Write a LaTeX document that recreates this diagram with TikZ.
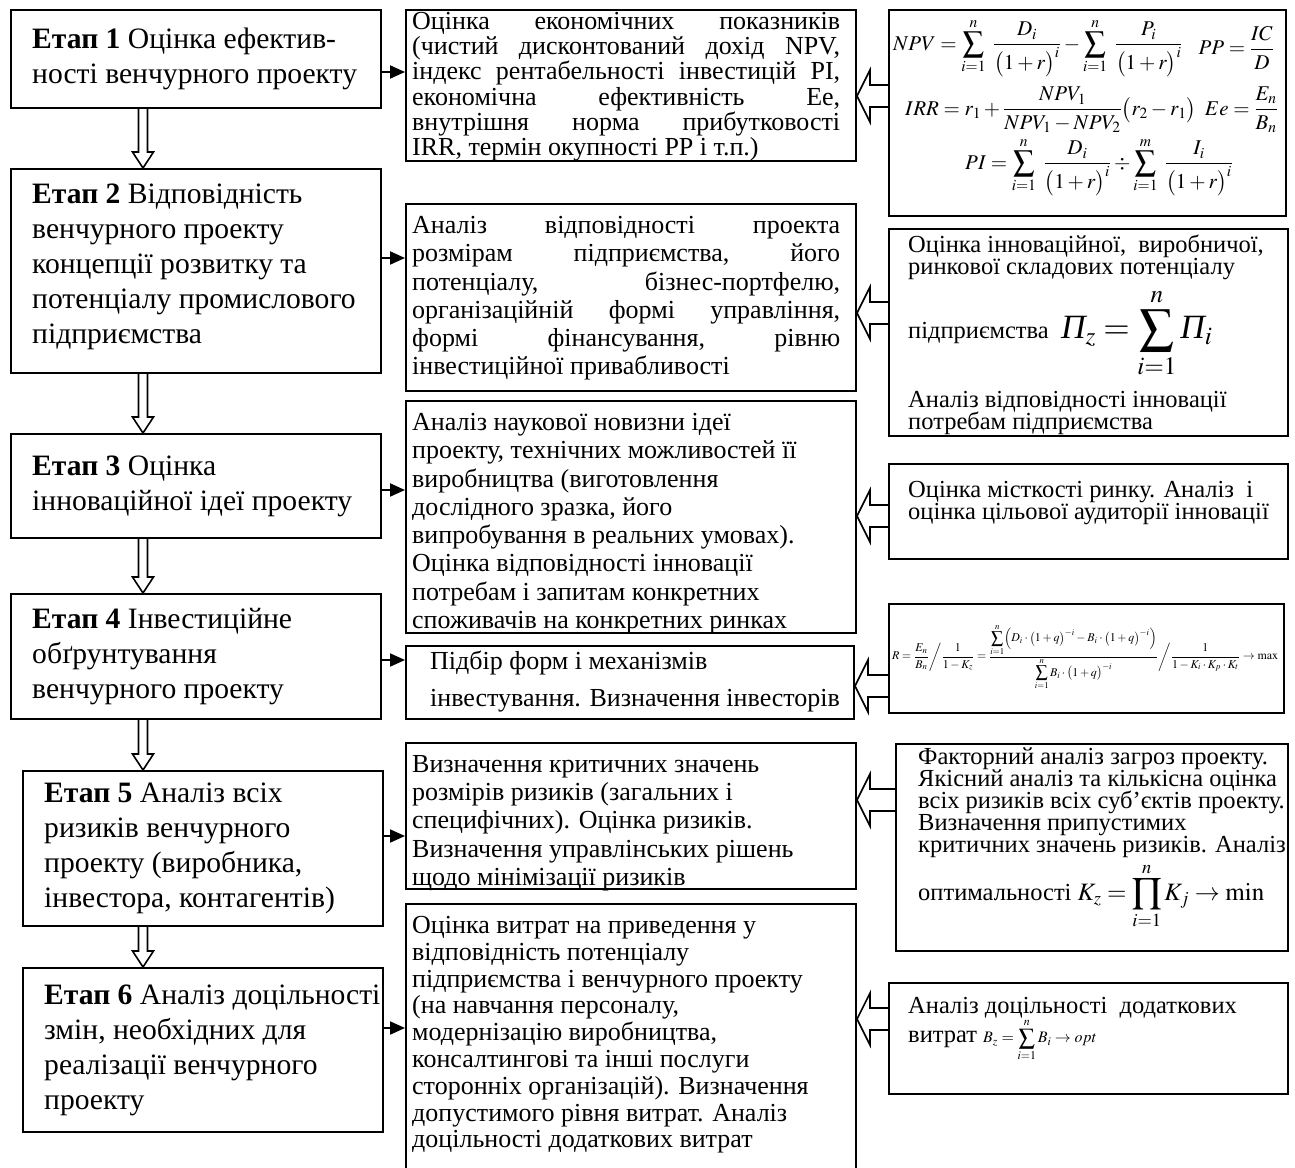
\documentclass[tikz,border=0pt]{standalone}
\usepackage{amsmath}
\usepackage{mathptmx}
\usepackage[no-math]{fontspec}
\setmainfont{Liberation Serif}
\usepackage{graphicx}
\usetikzlibrary{arrows.meta,calc}

\begin{document}
\begin{tikzpicture}[x=1pt,y=-1pt,
  box/.style={draw, line width=2pt, anchor=north west, inner sep=0pt},
  stagetxt/.style={anchor=west, inner sep=0pt, align=left, font=\stagefont},
  txt/.style={anchor=north west, inner sep=0pt, align=left},
  link/.style={line width=2pt, -{Triangle[length=15pt,width=13pt]}},
  hollow/.style={line width=1.6pt, line join=miter}]
\def\stagefont{\fontsize{29.6}{35}\selectfont}
\def\midfont{\fontsize{26}{28.3}\selectfont\lineskiplimit=-60pt\relax}
\def\sidefont{\fontsize{24.5}{22}\selectfont\lineskiplimit=-60pt\relax}
\def\jl#1{\hbox to 428pt{#1}}
\def\vdown#1#2{\draw[hollow] ($(#1.south -| ax)+(-4.5,0)$) -- ($(#2.north -| ax)+(-4.5,-16)$) -- ($(#2.north -| ax)+(-10.5,-16)$) -- (#2.north -| ax) -- ($(#2.north -| ax)+(10.5,-16)$) -- ($(#2.north -| ax)+(4.5,-16)$) -- ($(#1.south -| ax)+(4.5,0)$);}
\def\hleft#1#2#3{\draw[hollow] ($(#1.west |- 0,#3)+(0,-11)$) -- ($(#2.east |- 0,#3)+(13,-11)$) -- ($(#2.east |- 0,#3)+(13,-26)$) -- (#2.east |- 0,#3) -- ($(#2.east |- 0,#3)+(13,26)$) -- ($(#2.east |- 0,#3)+(13,11)$) -- ($(#1.west |- 0,#3)+(0,11)$);}

\useasboundingbox (0,0) rectangle (1295,1167);
\coordinate (ax) at (143,0);

% stages
\node[box, minimum width=370pt, minimum height=98pt] (b1) at (10,9) {};
\node[stagetxt] (b1t) at ($(b1.west)+(22,0)$) {\textbf{Етап 1} Оцінка ефектив-\\ності венчурного проекту};
\node[box, minimum width=370pt, minimum height=204pt] (b2) at (10,168) {};
\node[stagetxt] (b2t) at ($(b2.west)+(22,-4)$) {\textbf{Етап 2} Відповідність\\венчурного проекту\\концепції розвитку та\\потенціалу промислового\\підприємства};
\node[box, minimum width=370pt, minimum height=104pt] (b3) at (10,433) {};
\node[stagetxt] (b3t) at ($(b3.west)+(22,0)$) {\textbf{Етап 3} Оцінка\\інноваційної ідеї проекту};
\node[box, minimum width=370pt, minimum height=125pt] (b4) at (10,593) {};
\node[stagetxt] (b4t) at ($(b4.west)+(22,0)$) {\textbf{Етап 4} Інвестиційне\\обґрунтування\\венчурного проекту};
\node[box, minimum width=360pt, minimum height=155pt] (b5) at (22,770) {};
\node[stagetxt] (b5t) at ($(b5.west)+(22,0)$) {\textbf{Етап 5} Аналіз всіх\\ризиків венчурного\\проекту (виробника,\\інвестора, контагентів)};
\node[box, minimum width=360pt, minimum height=164pt] (b6) at (22,967) {};
\node[stagetxt] (b6t) at ($(b6.west)+(22,0)$) {\textbf{Етап 6} Аналіз доцільності\\змін, необхідних для\\реалізації венчурного\\проекту};

\vdown{b1}{b2}
\vdown{b2}{b3}
\vdown{b3}{b4}
\vdown{b4}{b5}
\vdown{b5}{b6}

% middle column
\node[box, minimum width=450pt, minimum height=151pt] (m1) at (405,9) {};
\begin{scope}
\clip (m1.north west) rectangle (m1.south east);
\node[txt, font={\midfont\baselineskip=25.2pt}] (m1t) at (412,12) {\jl{Оцінка\hfill економічних\hfill показників}\\\jl{(чистий\hfill дисконтований\hfill дохід\hfill NPV,}\\\jl{індекс\hfill рентабельності\hfill інвестицій\hfill PI,}\\\jl{економічна\hfill ефективність\hfill Ее,}\\\jl{внутрішня\hfill норма\hfill прибутковості}\\IRR, термін окупності PP і т.п.)};
\end{scope}

\node[box, minimum width=450pt, minimum height=187pt] (m2) at (405,203) {};
\node[txt, font=\midfont] (m2t) at (412,216) {\jl{Аналіз\hfill відповідності\hfill проекта}\\\jl{розмірам\hfill підприємства,\hfill його}\\\jl{потенціалу,\hfill бізнес-портфелю,}\\\jl{організаційній\hfill формі\hfill управління,}\\\jl{формі\hfill фінансування,\hfill рівню}\\інвестиційної привабливості};

\node[box, minimum width=450pt, minimum height=232pt] (m3) at (405,400) {};
\begin{scope}
\clip (m3.north west) rectangle (m3.south east);
\node[txt, font=\midfont] (m3t) at (412,413) {Аналіз наукової новизни ідеї\\проекту, технічних можливостей її\\виробництва (виготовлення\\дослідного зразка, його\\випробування в реальних умовах).\\Оцінка відповідності інновації\\потребам і запитам конкретних\\споживачів на конкретних ринках};
\end{scope}

\node[box, minimum width=448pt, minimum height=73pt] (m4) at (405,645) {};
\node[txt, font={\midfont\baselineskip=37pt}] (m4t) at (430,651) {Підбір форм і механізмів\\інвестування. Визначення інвесторів};

\node[box, minimum width=450pt, minimum height=146pt] (m5) at (405,742) {};
\begin{scope}
\clip (m5.north west) rectangle (m5.south east);
\node[txt, font=\midfont] (m5t) at (412,755) {Визначення критичних значень\\розмірів ризиків (загальних і\\специфічних). Оцінка ризиків.\\Визначення управлінських рішень\\щодо мінімізації ризиків};
\end{scope}

\node[box, minimum width=450pt, minimum height=270pt] (m6) at (405,903) {};
\node[txt, font={\midfont\baselineskip=26.8pt}] (m6t) at (412,916) {Оцінка витрат на приведення у\\відповідність потенціалу\\підприємства і венчурного проекту\\(на навчання персоналу,\\модернізацію виробництва,\\консалтингові та інші послуги\\сторонніх організацій). Визначення\\допустимого рівня витрат. Аналіз\\доцільності додаткових витрат};

\draw[link] (b1.east |- 0,72) -- (m1.west |- 0,72);
\draw[link] (b2.east |- 0,258) -- (m2.west |- 0,258);
\draw[link] (b3.east |- 0,490) -- (m3.west |- 0,490);
\draw[link] (b4.east |- 0,660) -- (m4.west |- 0,660);
\draw[link] (b5.east |- 0,836) -- (m5.west |- 0,836);
\draw[link] (b6.east |- 0,1028) -- (m6.west |- 0,1028);

% right column
\node[box, minimum width=397pt, minimum height=206pt] (r1) at (888,9) {};
\node[anchor=west, inner sep=0pt, font=\fontsize{21}{21}\selectfont] (npv) at (893,48) {$\displaystyle NPV=\sum_{i=1}^{n}\ \frac{D_i}{\bigl(1+r\bigr)^i}-\sum_{i=1}^{n}\ \frac{P_i}{\bigl(1+r\bigr)^i}$};
\node[anchor=east, inner sep=0pt, font=\fontsize{21}{21}\selectfont] (pp) at (1274,48) {$\displaystyle PP=\frac{IC}{D}$};
\node[anchor=west, inner sep=0pt, font=\fontsize{21}{21}\selectfont] (irr) at (905,110) {$\displaystyle IRR=r_1+\frac{NPV_1}{NPV_1-NPV_2}\bigl(r_2-r_1\bigr)$};
\node[anchor=east, inner sep=0pt, font=\fontsize{21}{21}\selectfont] (ee) at (1278,110) {$\displaystyle Ee=\frac{E_n}{B_n}$};
\node[anchor=west, inner sep=0pt, font=\fontsize{21}{21}\selectfont] (pi) at (965,167) {$\displaystyle PI=\sum_{i=1}^{n}\ \frac{D_i}{\bigl(1+r\bigr)^i}\div\sum_{i=1}^{m}\ \frac{I_i}{\bigl(1+r\bigr)^i}$};

\node[box, minimum width=399pt, minimum height=207pt] (r2) at (888,228) {};
\node[txt, font=\sidefont] (r2a) at (908,235) {Оцінка інноваційної,\ \ виробничої,\\ринкової складових потенціалу};
\node[anchor=west, inner sep=0pt, font=\sidefont] (r2f) at (908,333) {підприємства\ \ {\fontsize{34}{34}\selectfont$\text{\itshape Π}_z=\displaystyle\sum_{i=1}^{n}\text{\itshape Π}_i$}};
\node[txt, font=\sidefont] (r2b) at (908,391) {Аналіз відповідності інновації\\потребам підприємства};

\node[box, minimum width=399pt, minimum height=95pt] (r3) at (888,463) {};
\node[txt, font=\sidefont] (r3t) at (908,481) {Оцінка місткості ринку. Аналіз\ \ і\\оцінка цільової аудиторії інновації};

\node[box, minimum width=395pt, minimum height=109pt] (r4) at (888,603) {};
\node[inner sep=0pt] (rf) at (1085,657) {\resizebox{386pt}{!}{$R=\dfrac{E_n}{B_n}\bigg/\dfrac{1}{1-K_z}=\dfrac{\displaystyle\sum_{i=1}^{n}\Bigl(D_i\cdot\bigl(1+q\bigr)^{-i}-B_i\cdot\bigl(1+q\bigr)^{-i}\Bigr)}{\displaystyle\sum_{i=1}^{n}B_i\cdot\bigl(1+q\bigr)^{-i}}\bigg/\dfrac{1}{1-K_i\cdot K_p\cdot K_t}\to\max$}};

\node[box, minimum width=392pt, minimum height=207pt] (r5) at (895,743) {};
\node[txt, font=\sidefont] (r5t) at (918,748) {Факторний аналіз загроз проекту.\\Якісний аналіз та кількісна оцінка\\всіх ризиків всіх суб’єктів проекту.\\Визначення припустимих\\критичних значень ризиків. Аналіз};
\node[anchor=west, inner sep=0pt, font=\sidefont] (r5f) at (918,896) {оптимальності {\fontsize{25}{25}\selectfont$K_z=\displaystyle\prod_{i=1}^{n}K_j\to\min$}};

\node[box, minimum width=399pt, minimum height=111pt] (r6) at (888,982) {};
\node[txt, font=\sidefont] (r6t) at (908,997) {Аналіз доцільності\ \ додаткових};
\node[anchor=west, inner sep=0pt, font=\sidefont] (r6f) at (908,1040) {витрат {\fontsize{16}{16}\selectfont$B_z=\displaystyle\sum_{i=1}^{n}B_i\to opt$}};

\hleft{r1}{m1}{96}
\hleft{r2}{m2}{313}
\hleft{r3}{m3}{516}
\hleft{r4}{m4}{686}
\hleft{r5}{m5}{800}
\hleft{r6}{m6}{1019}
\end{tikzpicture}
\end{document}
